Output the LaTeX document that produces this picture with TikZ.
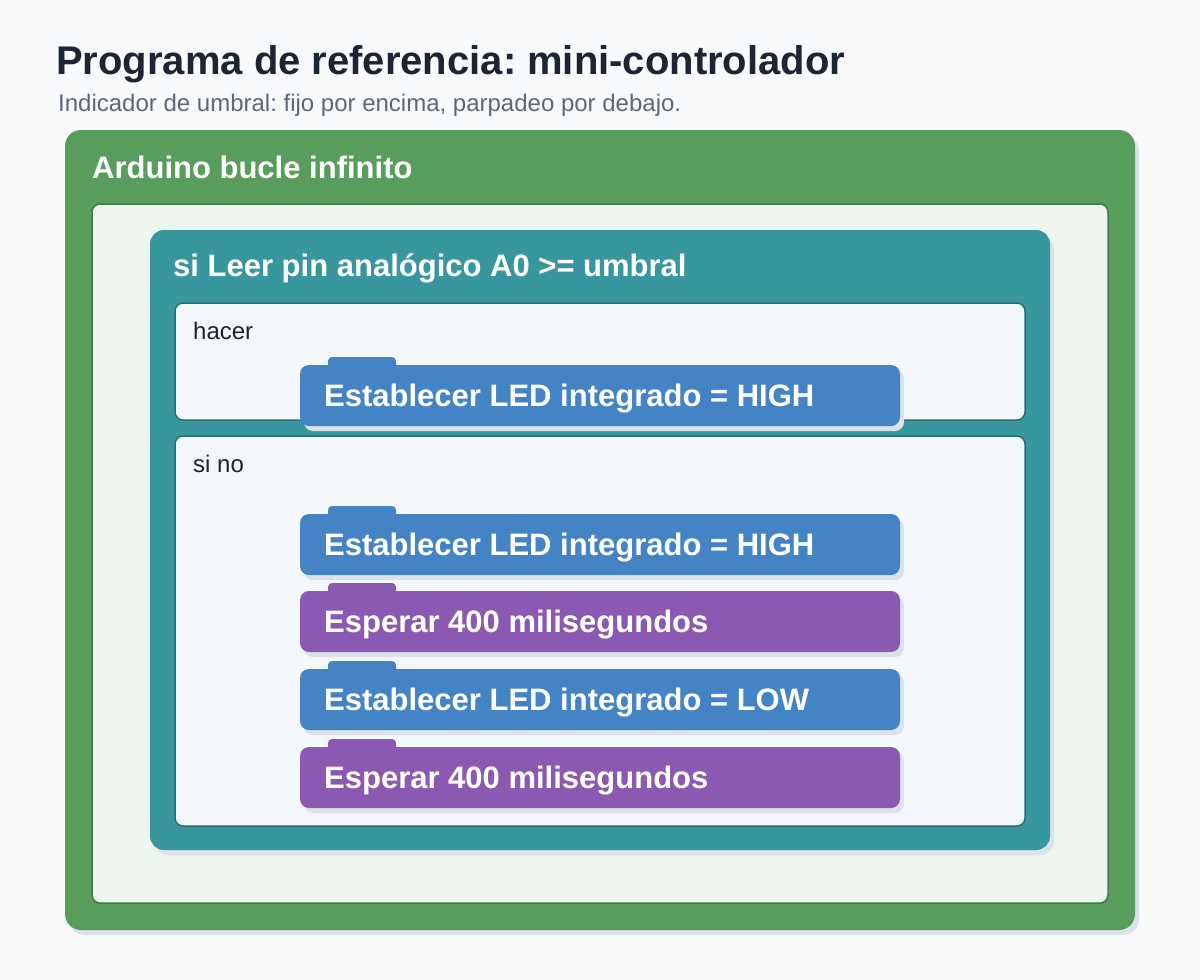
\documentclass[tikz,border=0pt]{standalone}
\usepackage{fontspec}
\setmainfont{Liberation Sans}
\usetikzlibrary{shadows}
\frenchspacing
\definecolor{bgc}{HTML}{F8FAFC}
\definecolor{titlec}{HTML}{1C2533}
\definecolor{subc}{HTML}{5D6775}
\definecolor{shadowc}{HTML}{DBE2EA}
\definecolor{greenc}{HTML}{589D5B}
\definecolor{greenpanel}{HTML}{EDF5EE}
\definecolor{greenline}{HTML}{3F7D46}
\definecolor{tealc}{HTML}{37969E}
\definecolor{tealline}{HTML}{2A6E75}
\definecolor{panelc}{HTML}{F3F7FA}
\definecolor{bluec}{HTML}{4484C5}
\definecolor{purplec}{HTML}{8B59B1}
\definecolor{labelc}{HTML}{1E2230}
\tikzset{
  shad/.style={drop shadow={shadow xshift=4pt,shadow yshift=-5pt,fill=shadowc,opacity=1}},
  box/.style={anchor=north west,inner sep=0pt,outer sep=0pt},
  panel/.style={box,draw,line width=1.5pt,rounded corners=8pt},
  blk/.style={box,rounded corners=9pt,minimum width=600pt,minimum height=61pt,shad},
  tabshape/.style={box,rounded corners=4pt,minimum width=68pt,minimum height=14pt},
  blktext/.style={anchor=base west,inner sep=0pt,text=white,font=\fontsize{31}{36}\selectfont\bfseries},
  hdrtext/.style={anchor=base west,inner sep=0pt,text=white,font=\fontsize{31}{36}\selectfont\bfseries},
  smalltext/.style={anchor=base west,inner sep=0pt,text=labelc,font=\fontsize{24}{28}\selectfont},
}
\begin{document}
\begin{tikzpicture}[x=1pt,y=-1pt]
\useasboundingbox[fill=bgc] (0,0) rectangle (1200,980);
% title
\node[anchor=base west,inner sep=0pt,text=titlec,font=\fontsize{40}{46}\selectfont\bfseries] (title) at (56,74) {Programa de referencia: mini-controlador};
\node[anchor=base west,inner sep=0pt,text=subc,font=\fontsize{24}{28}\selectfont] (subtitle) at (58,111) {Indicador de umbral: fijo por encima, parpadeo por debajo.};
% outer loop
\node[box,fill=greenc,rounded corners=16pt,minimum width=1070pt,minimum height=800pt,shad] (loop) at (65,130) {};
\node[hdrtext] (looplabel) at (92,178) {Arduino bucle infinito};
\node[panel,draw=greenline,fill=greenpanel,minimum width=1016pt,minimum height=699pt] (loopbody) at (92,204) {};
% if block
\node[box,fill=tealc,rounded corners=14pt,minimum width=900pt,minimum height=620pt,shad] (ifblk) at (150,230) {};
\node[hdrtext] (iflabel) at (173,276) {si Leer pin analógico A0 >= umbral};
\node[panel,draw=tealline,fill=panelc,minimum width=850pt,minimum height=117pt] (dopanel) at (175,303) {};
\node[smalltext] (dolabel) at (193,339) {hacer};
\node[panel,draw=tealline,fill=panelc,minimum width=850pt,minimum height=390pt] (elsepanel) at (175,436) {};
\node[smalltext] (elselabel) at (193,472) {si no};
% statement blocks
\foreach \nm/\y/\col/\txt in {b1/365/bluec/{Establecer LED integrado = HIGH},
                               b2/514/bluec/{Establecer LED integrado = HIGH},
                               b3/591/purplec/{Esperar 400 milisegundos},
                               b4/669/bluec/{Establecer LED integrado = LOW},
                               b5/747/purplec/{Esperar 400 milisegundos}}{
  \node[tabshape,fill=\col] (\nm tab) at (328,\y-8) {};
  \node[blk,fill=\col] (\nm) at (300,\y) {};
  \node[blktext] (\nm text) at (324,\y+41) {\txt};
}
\end{tikzpicture}
\end{document}
